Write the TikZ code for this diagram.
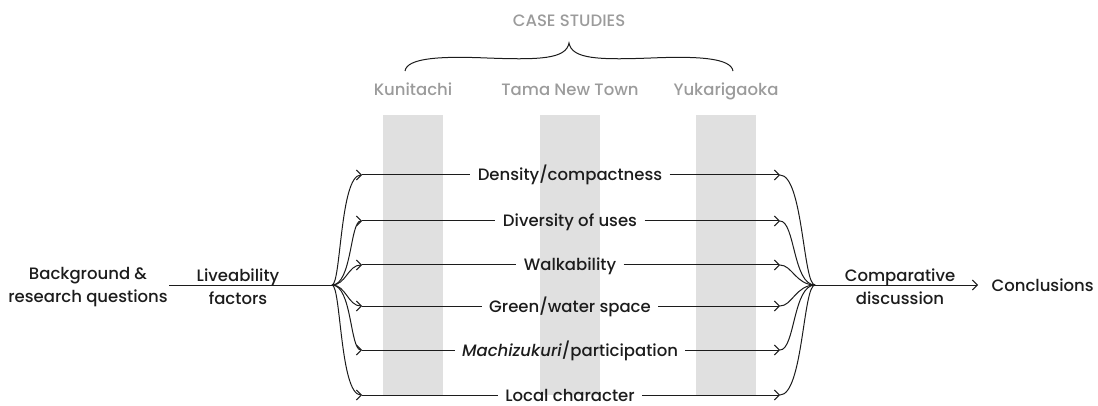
\documentclass[tikz,border=0pt]{standalone}
\usepackage{fontspec}
\setmainfont{Poppins}[UprightFont=* Medium,ItalicFont=* Medium Italic]
\usetikzlibrary{arrows.meta}

\definecolor{casegray}{HTML}{9B9B9B}
\definecolor{barfill}{HTML}{E0E0E0}
\definecolor{ink}{HTML}{1C1C1C}

\tikzset{
  casename/.style={anchor=base,text=casegray},
  factor/.style={text height=12pt,text depth=0pt,inner ysep=0pt,inner xsep=7pt},
  stage/.style={align=center,inner sep=1pt}
}

\begin{document}
\begin{tikzpicture}
    [x=1pt,y=-1pt,->,>={Straight Barb[length=5pt,width=10pt]},line width=1pt,draw=ink,
     every node/.style={font=\fontsize{16.5}{23}\selectfont,text=ink}]

    \useasboundingbox (0,0) rectangle (1098,406);

    % case study columns
    \foreach \x/\name/\txt in {413/kun/Kunitachi, 570/tama/Tama New Town, 726/yuka/Yukarigaoka} {
        \fill[barfill] (\x-30,115) rectangle (\x+30,395);
        \node[casename] (\name) at (\x,96) {\txt};
    }

    \node[casename] (cases) at (569,27) {CASE STUDIES};

    % brace over the three cases
    \coordinate (brl) at (405,71);
    \coordinate (brm) at (569,43);
    \coordinate (brr) at (733,71);
    \draw[-] (brl) .. controls (407,58) and (440,56) .. (487,58)
                   .. controls (540,60) and (566,59) .. (brm)
                   .. controls (572,59) and (598,60) .. (651,58)
                   .. controls (698,56) and (731,58) .. (brr);

    % stages left and right
    \node[stage] (bg) at (88,287) {Background \&\\research questions};
    \node[stage] (lv) at (238,287) {Liveability\\factors};
    \node[stage] (cd) at (900,287) {Comparative\\discussion};
    \node[factor,anchor=west,inner xsep=13pt] (cc) at (978,285) {Conclusions};

    \coordinate (lf) at (332,285);
    \coordinate (rf) at (815,285);

    \draw[-] (bg.east |- lf) -- (lf);
    \draw (rf) -- (cc.west);

    % factors, fanned out and gathered again
    \foreach \i/\y/\la/\lb/\ra/\rb/\txt in {
        1/175/341/340/803/803/{Density/compactness},
        2/221/352/350/795/793/{Diversity of uses},
        3/265/346/348/792/796/{Walkability},
        4/306/346/348/792/796/{Green/water space},
        5/350/352/350/795/793/{\textit{Machizukuri}/participation},
        6/395/341/340/803/803/{Local character}} {
        \coordinate (l\i) at (362,\y);
        \coordinate (r\i) at (780,\y);
        \node[factor] (f\i) at (570,\y) {\txt};
        \draw (lf) .. controls (\la,285) and (\lb,\y) .. (l\i);
        \draw[-] (l\i) -- (f\i.west);
        \draw (f\i.east) -- (r\i);
        \draw[-] (r\i) .. controls (\ra,\y) and (\rb,285) .. (rf);
    }
\end{tikzpicture}
\end{document}
